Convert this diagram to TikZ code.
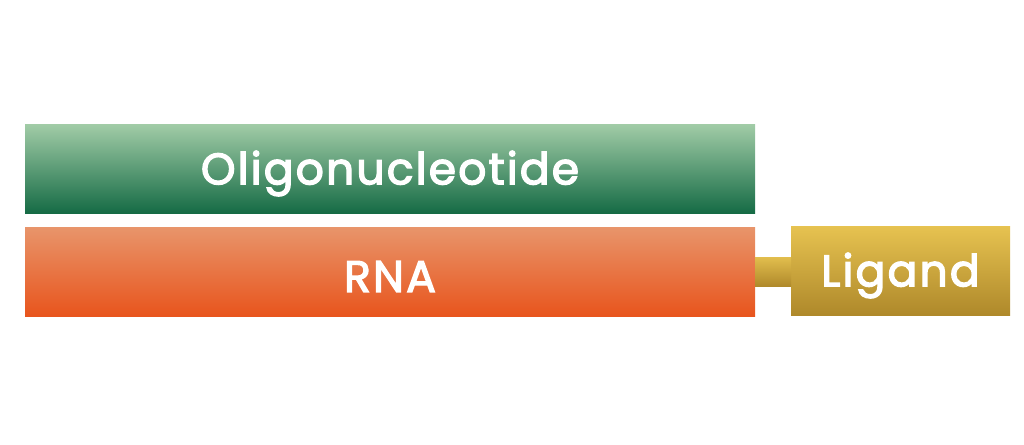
\documentclass[tikz,border=0pt]{standalone}
\usepackage{fontspec}
\setmainfont{Poppins}
\newfontfamily\barfont{Poppins}[FakeBold=3, LetterSpace=5]
\definecolor{gtop}{RGB}{160,203,166}
\definecolor{gbot}{RGB}{20,106,68}
\definecolor{otop}{RGB}{232,148,106}
\definecolor{obot}{RGB}{232,84,28}
\definecolor{ytop}{RGB}{230,194,80}
\definecolor{ybot}{RGB}{174,136,42}
\tikzset{
  box/.style={inner sep=0pt, outer sep=0pt, minimum height=89pt, anchor=north west},
  lbl/.style={text=white, font=\fontsize{44}{50}\selectfont\barfont, inner sep=0pt, yshift=-4pt},
}
\begin{document}
\begin{tikzpicture}[x=1pt,y=1pt]
\useasboundingbox (0,0) rectangle (1024,444);
\node[box, minimum width=730pt] (oligo) at (25,319) {};
\node[box, minimum width=730pt] (rna) at (25,216) {};
\node[box, minimum width=219pt] (lig) at (791,217) {};
\shade[top color=gtop, bottom color=gbot] (oligo.south west) rectangle (oligo.north east);
\shade[top color=otop, bottom color=obot] (rna.south west) rectangle (rna.north east);
\shade[top color=ytop, bottom color=ybot] (lig.south west) rectangle (lig.north east);
\shade[top color=ytop!90!ybot, bottom color=ybot] (rna.east |- 0,186) rectangle (lig.west |- 0,157);
\node[lbl] (t1) at (oligo.center) {Oligonucleotide};
\node[lbl] (t2) at (rna.center) {RNA};
\node[lbl] (t3) at (lig.center) {Ligand};
\end{tikzpicture}
\end{document}
